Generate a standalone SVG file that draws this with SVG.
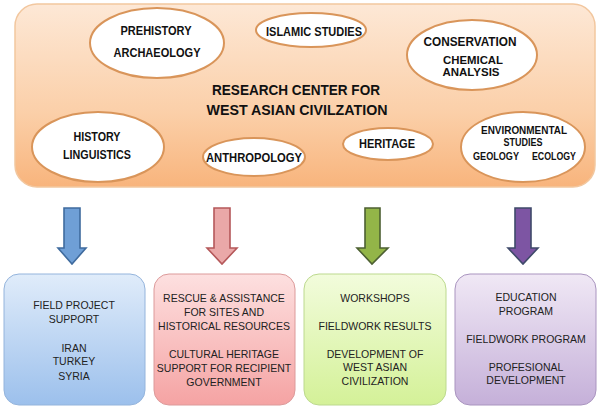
<svg xmlns="http://www.w3.org/2000/svg" width="600" height="411" viewBox="0 0 600 411">
<defs>
<linearGradient id="gMain" x1="0" y1="0" x2="0" y2="1"><stop offset="0" stop-color="#fde8d6"/><stop offset="0.6" stop-color="#fbcfa8"/><stop offset="1" stop-color="#f8b47c"/></linearGradient>
<linearGradient id="gBlue" x1="0" y1="0" x2="0" y2="1"><stop offset="0" stop-color="#e0ecfa"/><stop offset="1" stop-color="#9cc0ec"/></linearGradient>
<linearGradient id="gRed" x1="0" y1="0" x2="0" y2="1"><stop offset="0" stop-color="#fde0e0"/><stop offset="1" stop-color="#f5a3a3"/></linearGradient>
<linearGradient id="gGreen" x1="0" y1="0" x2="0" y2="1"><stop offset="0" stop-color="#f2fcdc"/><stop offset="1" stop-color="#d4f198"/></linearGradient>
<linearGradient id="gPurple" x1="0" y1="0" x2="0" y2="1"><stop offset="0" stop-color="#f0e8f5"/><stop offset="1" stop-color="#c5b0d9"/></linearGradient>
</defs>
<style>
.el{fill:#ffffff;stroke:#d9955a;stroke-width:2}
.et{font-family:"Liberation Sans",Arial,sans-serif;font-weight:bold;font-size:12.5px;fill:#111;text-anchor:middle}
.es{font-size:10.5px}
.ec{font-size:11px}
.tt{font-family:"Liberation Sans",Arial,sans-serif;font-weight:bold;font-size:15px;fill:#111;text-anchor:middle}
.bt{font-family:"Liberation Sans",Arial,sans-serif;font-size:10.5px;fill:#222;text-anchor:middle}
.arrow{stroke-width:1.6;stroke-linejoin:miter}
</style>
<g id="center">
<rect x="15" y="4" width="580" height="183" rx="22" fill="url(#gMain)" stroke="#f2c79f" stroke-width="1.5"/>
<text class="tt" x="296" y="95" textLength="168" lengthAdjust="spacingAndGlyphs">RESEARCH CENTER FOR</text>
<text class="tt" x="297" y="115" textLength="181" lengthAdjust="spacingAndGlyphs">WEST ASIAN CIVILZATION</text>
</g>
<g id="prehistory">
<ellipse class="el" cx="157" cy="43" rx="67" ry="35"/>
<text class="et" x="156" y="35" textLength="71" lengthAdjust="spacingAndGlyphs">PREHISTORY</text>
<text class="et" x="157" y="57" textLength="87" lengthAdjust="spacingAndGlyphs">ARCHAEOLOGY</text>
</g>
<g id="islamic">
<ellipse class="el" cx="311" cy="30" rx="55" ry="17"/>
<text class="et" x="314" y="36" textLength="96" lengthAdjust="spacingAndGlyphs">ISLAMIC STUDIES</text>
</g>
<g id="conservation">
<ellipse class="el" cx="472" cy="55" rx="65" ry="35"/>
<text class="et" x="470" y="46" textLength="93" lengthAdjust="spacingAndGlyphs">CONSERVATION</text>
<text class="et ec" x="473" y="64" textLength="60" lengthAdjust="spacingAndGlyphs">CHEMICAL</text>
<text class="et ec" x="471" y="76" textLength="57" lengthAdjust="spacingAndGlyphs">ANALYSIS</text>
</g>
<g id="history">
<ellipse class="el" cx="98" cy="147" rx="66" ry="35"/>
<text class="et" x="97" y="141" textLength="47" lengthAdjust="spacingAndGlyphs">HISTORY</text>
<text class="et" x="97" y="159" textLength="68" lengthAdjust="spacingAndGlyphs">LINGUISTICS</text>
</g>
<g id="anthropology">
<ellipse class="el" cx="254" cy="157" rx="51" ry="19"/>
<text class="et" x="254" y="162" textLength="96" lengthAdjust="spacingAndGlyphs">ANTHROPOLOGY</text>
</g>
<g id="heritage">
<ellipse class="el" cx="388" cy="144" rx="45" ry="16"/>
<text class="et" x="387" y="148" textLength="56" lengthAdjust="spacingAndGlyphs">HERITAGE</text>
</g>
<g id="environmental">
<ellipse class="el" cx="523" cy="147" rx="62" ry="35"/>
<text class="et es" x="524" y="134" textLength="86" lengthAdjust="spacingAndGlyphs">ENVIRONMENTAL</text>
<text class="et es" x="523" y="146" textLength="39" lengthAdjust="spacingAndGlyphs">STUDIES</text>
<text class="et es" x="496" y="160" textLength="46" lengthAdjust="spacingAndGlyphs">GEOLOGY</text>
<text class="et es" x="554" y="160" textLength="44" lengthAdjust="spacingAndGlyphs">ECOLOGY</text>
</g>
<g id="connectors">
<path class="arrow" d="M64 208 H80 V248 H86 L72 264 L58 248 H64 Z" fill="#6f9fd6" stroke="#3f6b9e"/>
<path class="arrow" d="M214 208 H230 V248 H237 L222 264 L207 248 H214 Z" fill="#eaa8a8" stroke="#b5585a"/>
<path class="arrow" d="M365 208 H380 V248 H388 L372 264 L357 248 H365 Z" fill="#93b548" stroke="#4d6032"/>
<path class="arrow" d="M515 208 H531 V248 H538 L523 264 L508 248 H515 Z" fill="#7d55a3" stroke="#3f4a6a"/>
</g>
<g id="box-field">
<rect x="4" y="274" width="141" height="131" rx="15" fill="url(#gBlue)" stroke="#94b4dc" stroke-width="1"/>
<text class="bt" x="74" y="309">FIELD PROJECT</text>
<text class="bt" x="74" y="323">SUPPORT</text>
<text class="bt" x="74" y="352">IRAN</text>
<text class="bt" x="74" y="365">TURKEY</text>
<text class="bt" x="74" y="380">SYRIA</text>
</g>
<g id="box-rescue">
<rect x="154" y="274" width="141" height="131" rx="15" fill="url(#gRed)" stroke="#dc9a9a" stroke-width="1"/>
<text class="bt" x="224" y="302">RESCUE &amp; ASSISTANCE</text>
<text class="bt" x="224" y="316">FOR SITES AND</text>
<text class="bt" x="224" y="330">HISTORICAL RESOURCES</text>
<text class="bt" x="224" y="358">CULTURAL HERITAGE</text>
<text class="bt" x="224" y="372">SUPPORT FOR RECIPIENT</text>
<text class="bt" x="224" y="386">GOVERNMENT</text>
</g>
<g id="box-workshops">
<rect x="304" y="274" width="142" height="131" rx="15" fill="url(#gGreen)" stroke="#bcd98e" stroke-width="1"/>
<text class="bt" x="375" y="302">WORKSHOPS</text>
<text class="bt" x="375" y="330">FIELDWORK RESULTS</text>
<text class="bt" x="375" y="358">DEVELOPMENT OF</text>
<text class="bt" x="375" y="371">WEST ASIAN</text>
<text class="bt" x="375" y="385">CIVILIZATION</text>
</g>
<g id="box-education">
<rect x="455" y="274" width="141" height="131" rx="15" fill="url(#gPurple)" stroke="#a994bf" stroke-width="1"/>
<text class="bt" x="526" y="301">EDUCATION</text>
<text class="bt" x="526" y="315">PROGRAM</text>
<text class="bt" x="526" y="343">FIELDWORK PROGRAM</text>
<text class="bt" x="526" y="371">PROFESIONAL</text>
<text class="bt" x="526" y="384">DEVELOPMENT</text>
</g>
</svg>
